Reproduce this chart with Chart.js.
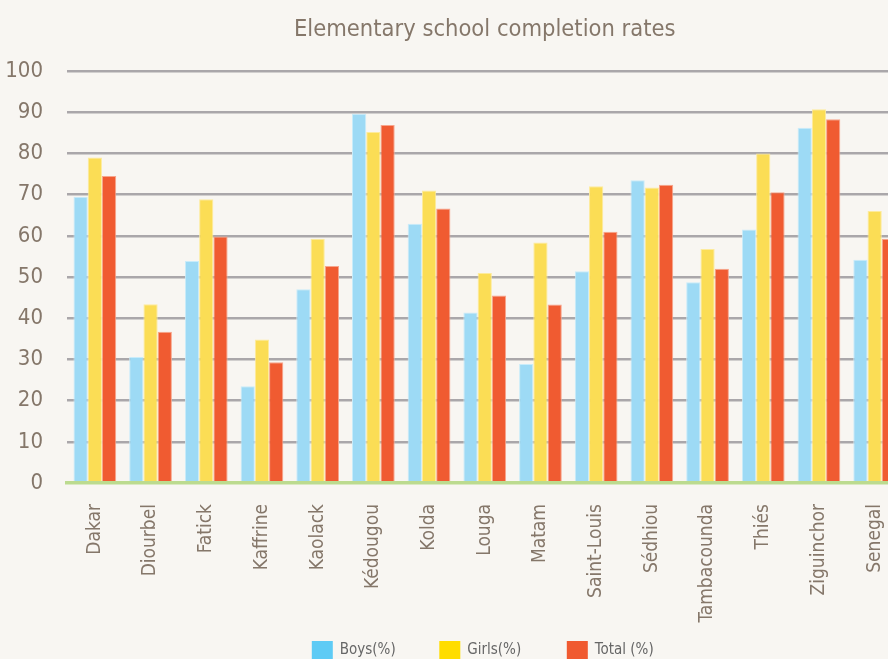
<!DOCTYPE html>
<html>
<head>
<meta charset="utf-8">
<script src="https://cdn.jsdelivr.net/npm/chart.js@4"></script>
<style>
  html, body { margin: 0; padding: 0; background: #f8f6f2; overflow: hidden; }
  #wrap { position: absolute; left: 0; top: 0; width: 968px; height: 659px; }
</style>
</head>
<body>
<div id="wrap"><canvas id="myChart" width="968" height="659"></canvas></div>
<script>
var regions = ["Dakar", "Diourbel", "Fatick", "Kaffrine", "Kaolack", "Kédougou", "Kolda", "Louga",
  "Matam", "Saint-Louis", "Sédhiou", "Tambacounda", "Thiés", "Ziguinchor", "Senegal"];
var boys  = [69.5, 30.6, 53.9, 23.5, 47.0, 89.6, 62.9, 41.4, 28.9, 51.4, 73.5, 48.7, 61.5, 86.2, 54.2];
var girls = [79.0, 43.4, 68.9, 34.8, 59.3, 85.2, 71.0, 51.0, 58.4, 72.0, 71.7, 56.8, 80.0, 90.7, 66.0];
var total = [74.5, 36.7, 59.8, 29.3, 52.7, 86.9, 66.6, 45.5, 43.3, 61.0, 72.4, 52.0, 70.6, 88.3, 59.3];
var seriesNames = ["Boys(%)", "Girls(%)", "Total (%)"];
var yTicks = [0, 10, 20, 30, 40, 50, 60, 70, 80, 90, 100];

var barColors = ["#9ddaf5", "#fbdd55", "#f05b31"];
var edgeColors = ["#c9ecfa", "#fdeb9c", "#f7a58c"];
var legendColors = ["#5ecbf5", "#ffdd00", "#f05a30"];
var textColor = "#85776a";
var narrow = "'DejaVu Sans Condensed', 'Liberation Sans Narrow', sans-serif";

// legend drawn by hand: the original spaces its items far apart horizontally
// but sits tight under the axis labels
var bottomLegend = {
  id: 'bottomLegend',
  afterDraw: function (c) {
    var g = c.ctx;
    var pitch = 127.5, box = 21, boxH = 18, gap = 7;
    var area = c.chartArea;
    g.save();
    g.font = '15px ' + narrow;
    g.textBaseline = 'middle';
    var lastW = box + gap + g.measureText(seriesNames[seriesNames.length - 1]).width;
    var x = (area.left + area.right) / 2 - ((seriesNames.length - 1) * pitch + lastW) / 2 - 2;
    var y = c.height - 9;
    for (var i = 0; i < seriesNames.length; i++) {
      g.fillStyle = legendColors[i];
      g.fillRect(x, y - boxH / 2, box, boxH);
      g.fillStyle = '#666666';
      g.fillText(seriesNames[i], x + box + gap, y);
      x += pitch;
    }
    g.restore();
  }
};

var ctx = document.getElementById('myChart').getContext('2d');
var chart = new Chart(ctx, {
  type: 'bar',
  data: {
    labels: regions,
    datasets: [
      { label: seriesNames[0], data: boys, backgroundColor: barColors[0], borderColor: edgeColors[0], borderWidth: 1 },
      { label: seriesNames[1], data: girls, backgroundColor: barColors[1], borderColor: edgeColors[1], borderWidth: 1 },
      { label: seriesNames[2], data: total, backgroundColor: barColors[2], borderColor: edgeColors[2], borderWidth: 1 }
    ]
  },
  plugins: [bottomLegend],
  options: {
    responsive: false,
    animation: false,
    events: [],
    datasets: { bar: { categoryPercentage: 0.767, barPercentage: 1.0 } },
    layout: { padding: { left: 0, right: 65.5, top: 0, bottom: 0 } },
    plugins: {
      title: {
        display: true,
        fullSize: false,
        text: 'Elementary school completion rates',
        color: textColor,
        font: { family: narrow, size: 23.5, weight: 'normal', lineHeight: 1.2 },
        padding: { top: 16, bottom: 26.8 }
      },
      legend: { display: false },
      tooltip: { enabled: false }
    },
    scales: {
      x: {
        grid: { display: false },
        border: { display: true, color: '#bcdb8f', width: 3.5, z: 1 },
        ticks: {
          color: textColor,
          font: { family: narrow, size: 19 },
          minRotation: 90, maxRotation: 90,
          autoSkip: false,
          padding: 13
        },
        afterFit: function (s) { s.height = 176; }
      },
      y: {
        min: 0, max: 100,
        afterBuildTicks: function (s) { s.ticks = yTicks.map(function (v) { return { value: v }; }); },
        border: { display: false },
        grid: {
          drawTicks: false,
          color: function (c) { return c.tick && c.tick.value === 0 ? 'rgba(0,0,0,0)' : '#aaa7aa'; },
          lineWidth: 2.5
        },
        ticks: {
          color: textColor,
          font: { family: narrow, size: 22 },
          padding: 24
        },
        afterFit: function (s) { s.width = 67; }
      }
    }
  }
});
</script>
</body>
</html>
